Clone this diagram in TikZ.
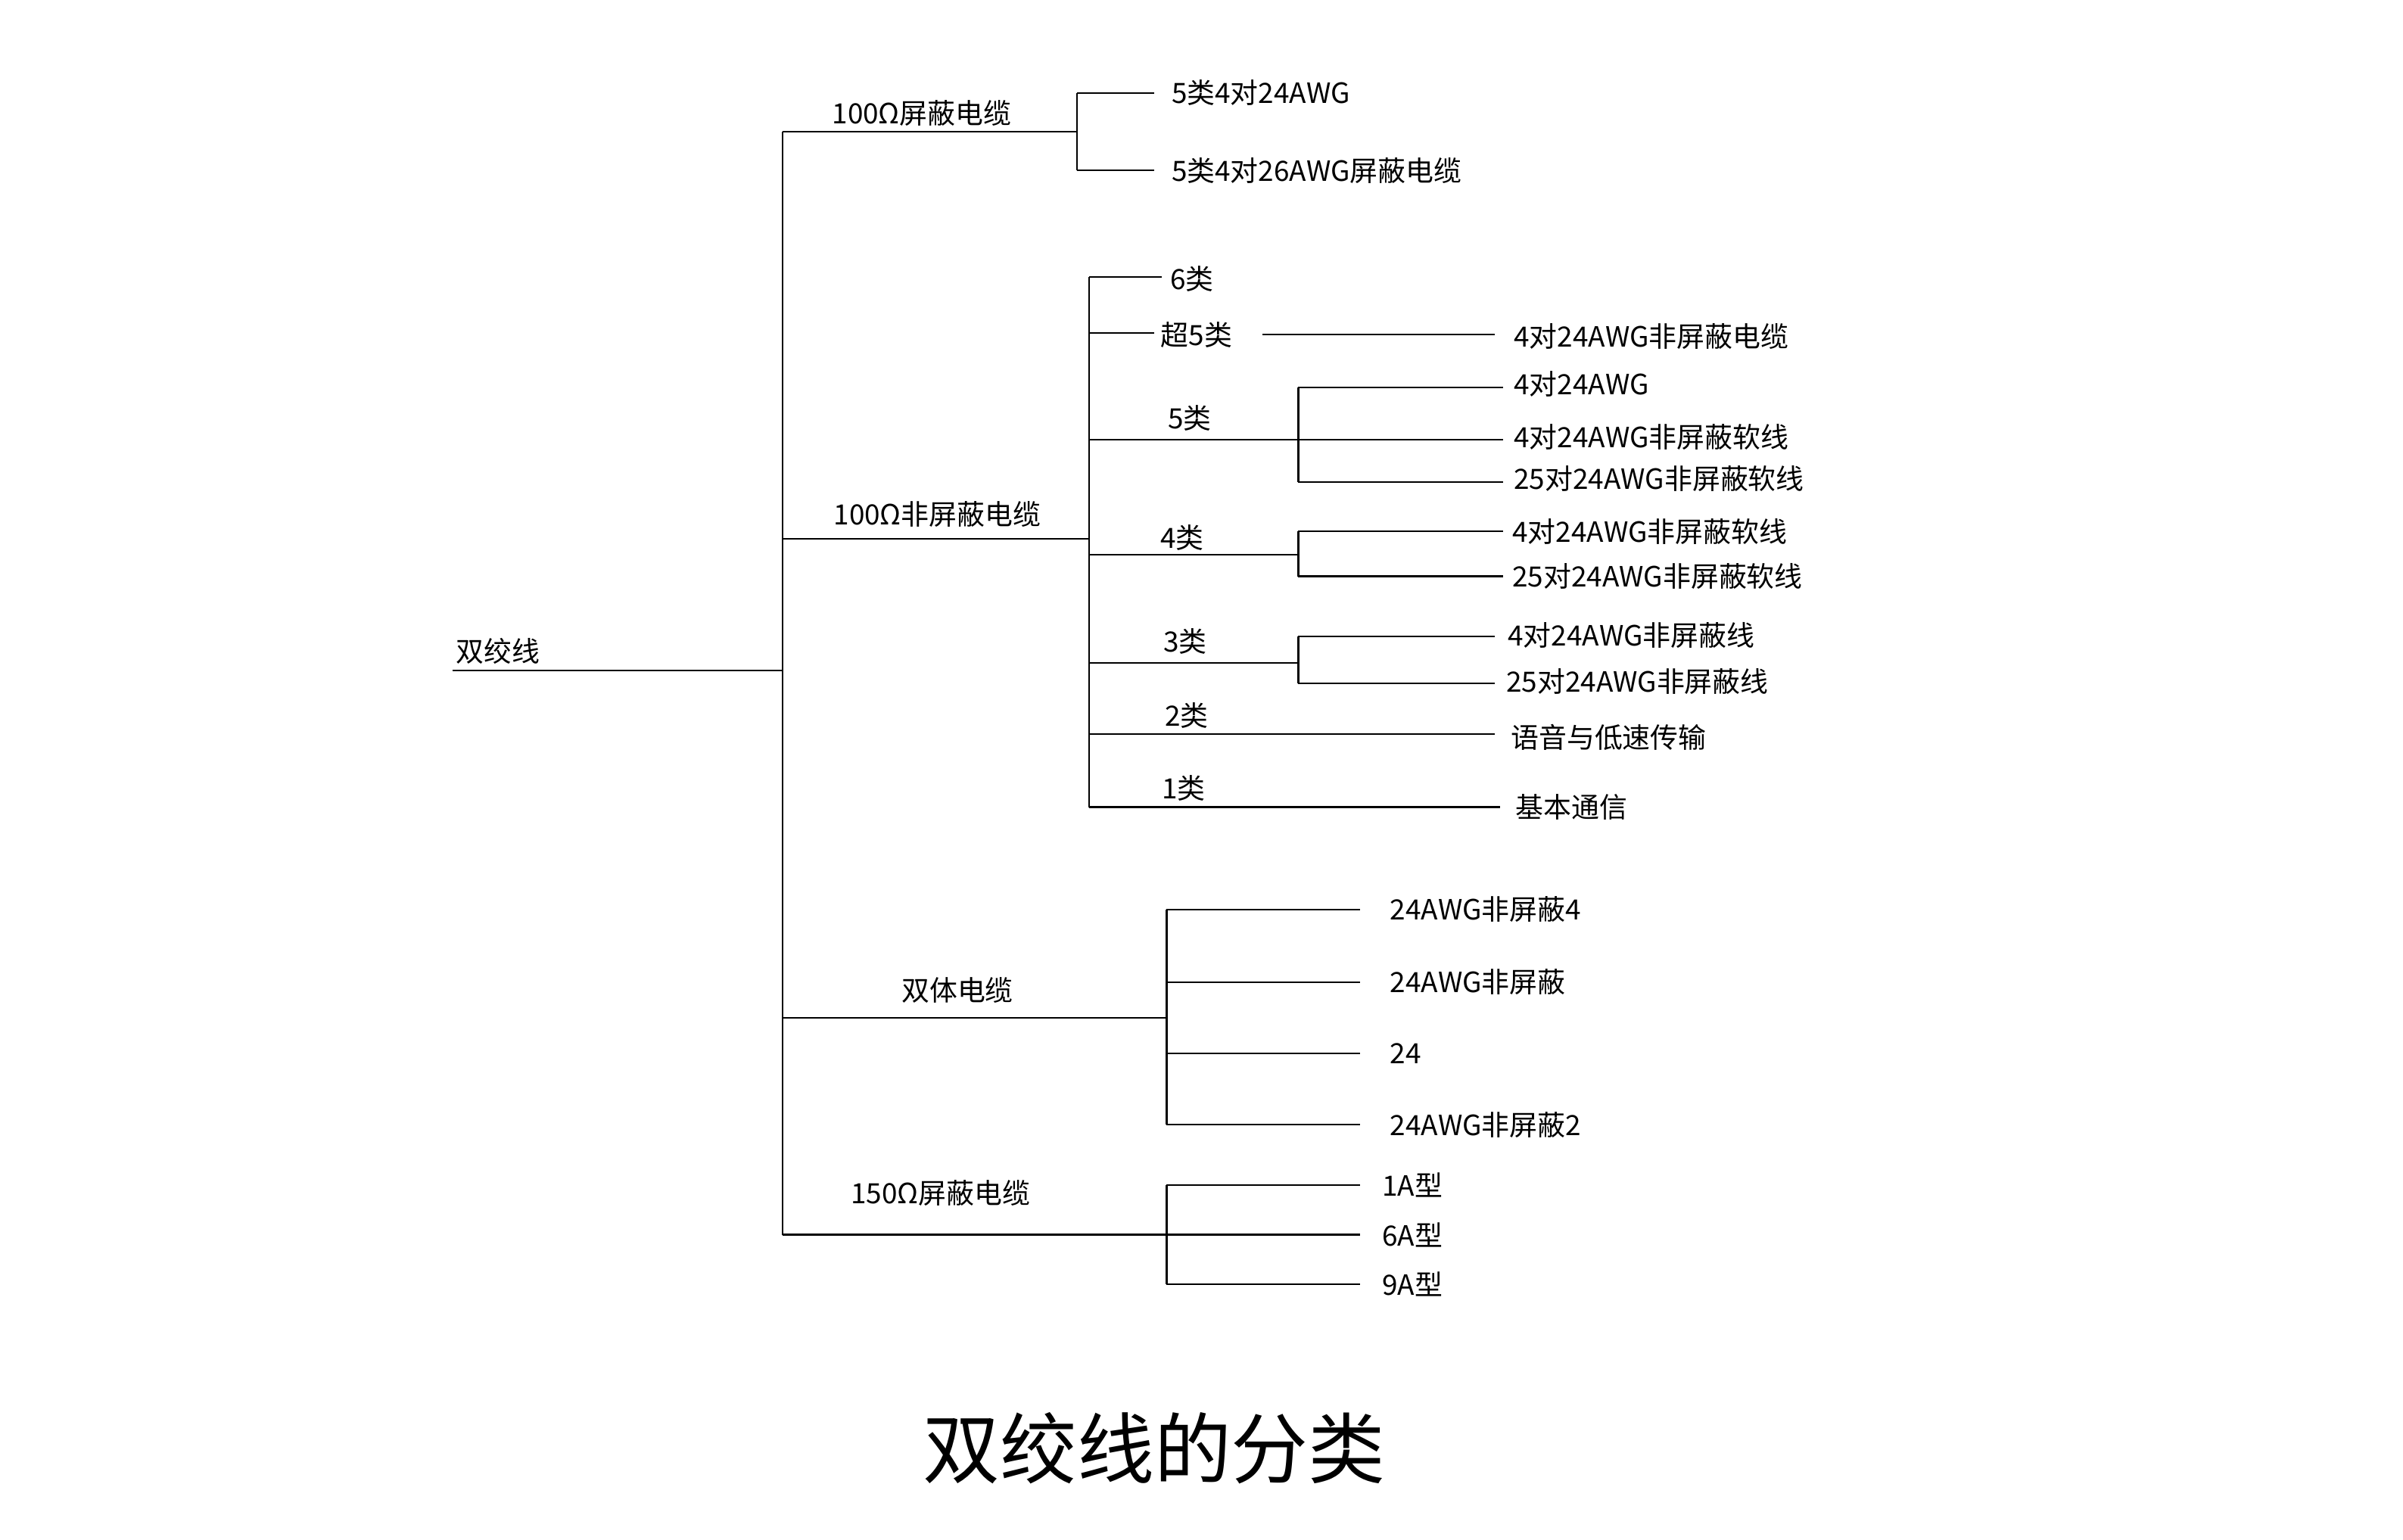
\documentclass[tikz,border=0pt]{standalone}
\usepackage{fontspec}
\setmainfont{Noto Sans CJK SC}
\begin{document}
\begin{tikzpicture}[x=0.02047cm,y=-0.02047cm,line width=0.6pt,
  lbl/.style={font=\fontsize{10.5}{12}\selectfont,inner sep=1pt},
  leaf/.style={lbl,anchor=west}]
\useasboundingbox (0,0) rectangle (1551,994);
% root and trunk
\node[lbl,anchor=south west] (root) at (292,431) {双绞线};
\draw (292,433) -- (505,433);
\draw (505,85) -- (505,797);
% 100 Ohm shielded
\draw (505,85) -- (695,85);
\node[lbl] (stp) at (595,73) {100Ω屏蔽电缆};
\draw (695,60) -- (695,110);
\foreach \y/\t in {60/5类4对24AWG,110/5类4对26AWG屏蔽电缆} {
  \draw (695,\y) -- (745,\y);
  \node[leaf] at (754,\y) {\t};
}
% 100 Ohm unshielded
\draw (505,348) -- (703,348);
\node[lbl] (utp) at (605,332) {100Ω非屏蔽电缆};
\draw (703,179) -- (703,521);
\draw (703,179) -- (750,179);
\node[leaf] (c6) at (753,180) {6类};
\draw (703,215) -- (745,215);
\node[leaf] (c5e) at (747,216) {超5类};
\draw (815,216) -- (965,216);
\node[leaf] at (975,217) {4对24AWG非屏蔽电缆};
% category 5
\draw (703,284) -- (838,284);
\node[lbl] (c5) at (768,270) {5类};
\draw (838,250) -- (838,311);
\foreach \y/\t in {250/4对24AWG,284/4对24AWG非屏蔽软线,311/25对24AWG非屏蔽软线} {
  \draw (838,\y) -- (970,\y);
  \node[leaf] at (975,\y-2) {\t};
}
% category 4
\draw (703,358) -- (838,358);
\node[lbl] (c4) at (763,347) {4类};
\draw (838,343) -- (838,372);
\foreach \y/\t in {343/4对24AWG非屏蔽软线,372/25对24AWG非屏蔽软线} {
  \draw (838,\y) -- (970,\y);
  \node[leaf] at (974,\y) {\t};
}
% category 3
\draw (703,428) -- (838,428);
\node[lbl] (c3) at (765,414) {3类};
\draw (838,411) -- (838,441);
\draw (838,411) -- (965,411);
\node[leaf] at (971,410) {4对24AWG非屏蔽线};
\draw (838,441) -- (965,441);
\node[leaf] at (970,440) {25对24AWG非屏蔽线};
% categories 2 and 1
\draw (703,474) -- (965,474);
\node[lbl] (c2) at (766,462) {2类};
\node[leaf] at (973,476) {语音与低速传输};
\draw (703,521) -- (968,521);
\node[lbl] (c1) at (764,509) {1类};
\node[leaf] at (976,521) {基本通信};
% twin cable
\draw (505,657) -- (753,657);
\node[lbl] (twin) at (618,639) {双体电缆};
\draw (753,587) -- (753,726);
\foreach \y/\t in {587/24AWG非屏蔽4/4对,634/24AWG非屏蔽/屏蔽4/4对,680/24/22AWG非屏蔽/屏蔽4/2对,726/24AWG非屏蔽2/2对} {
  \draw (753,\y) -- (878,\y);
  \node[leaf] at (895,\y) {\t};
}
% 150 Ohm shielded
\draw (505,797) -- (753,797);
\node[lbl] (stp150) at (607,770) {150Ω屏蔽电缆};
\draw (753,765) -- (753,829);
\foreach \y/\t in {765/1A型,797/6A型,829/9A型} {
  \draw (753,\y) -- (878,\y);
  \node[leaf] at (890,\y) {\t};
}
% title
\node[font=\fontsize{29}{34}\selectfont] (title) at (745,935) {双绞线的分类};
\end{tikzpicture}
\end{document}
